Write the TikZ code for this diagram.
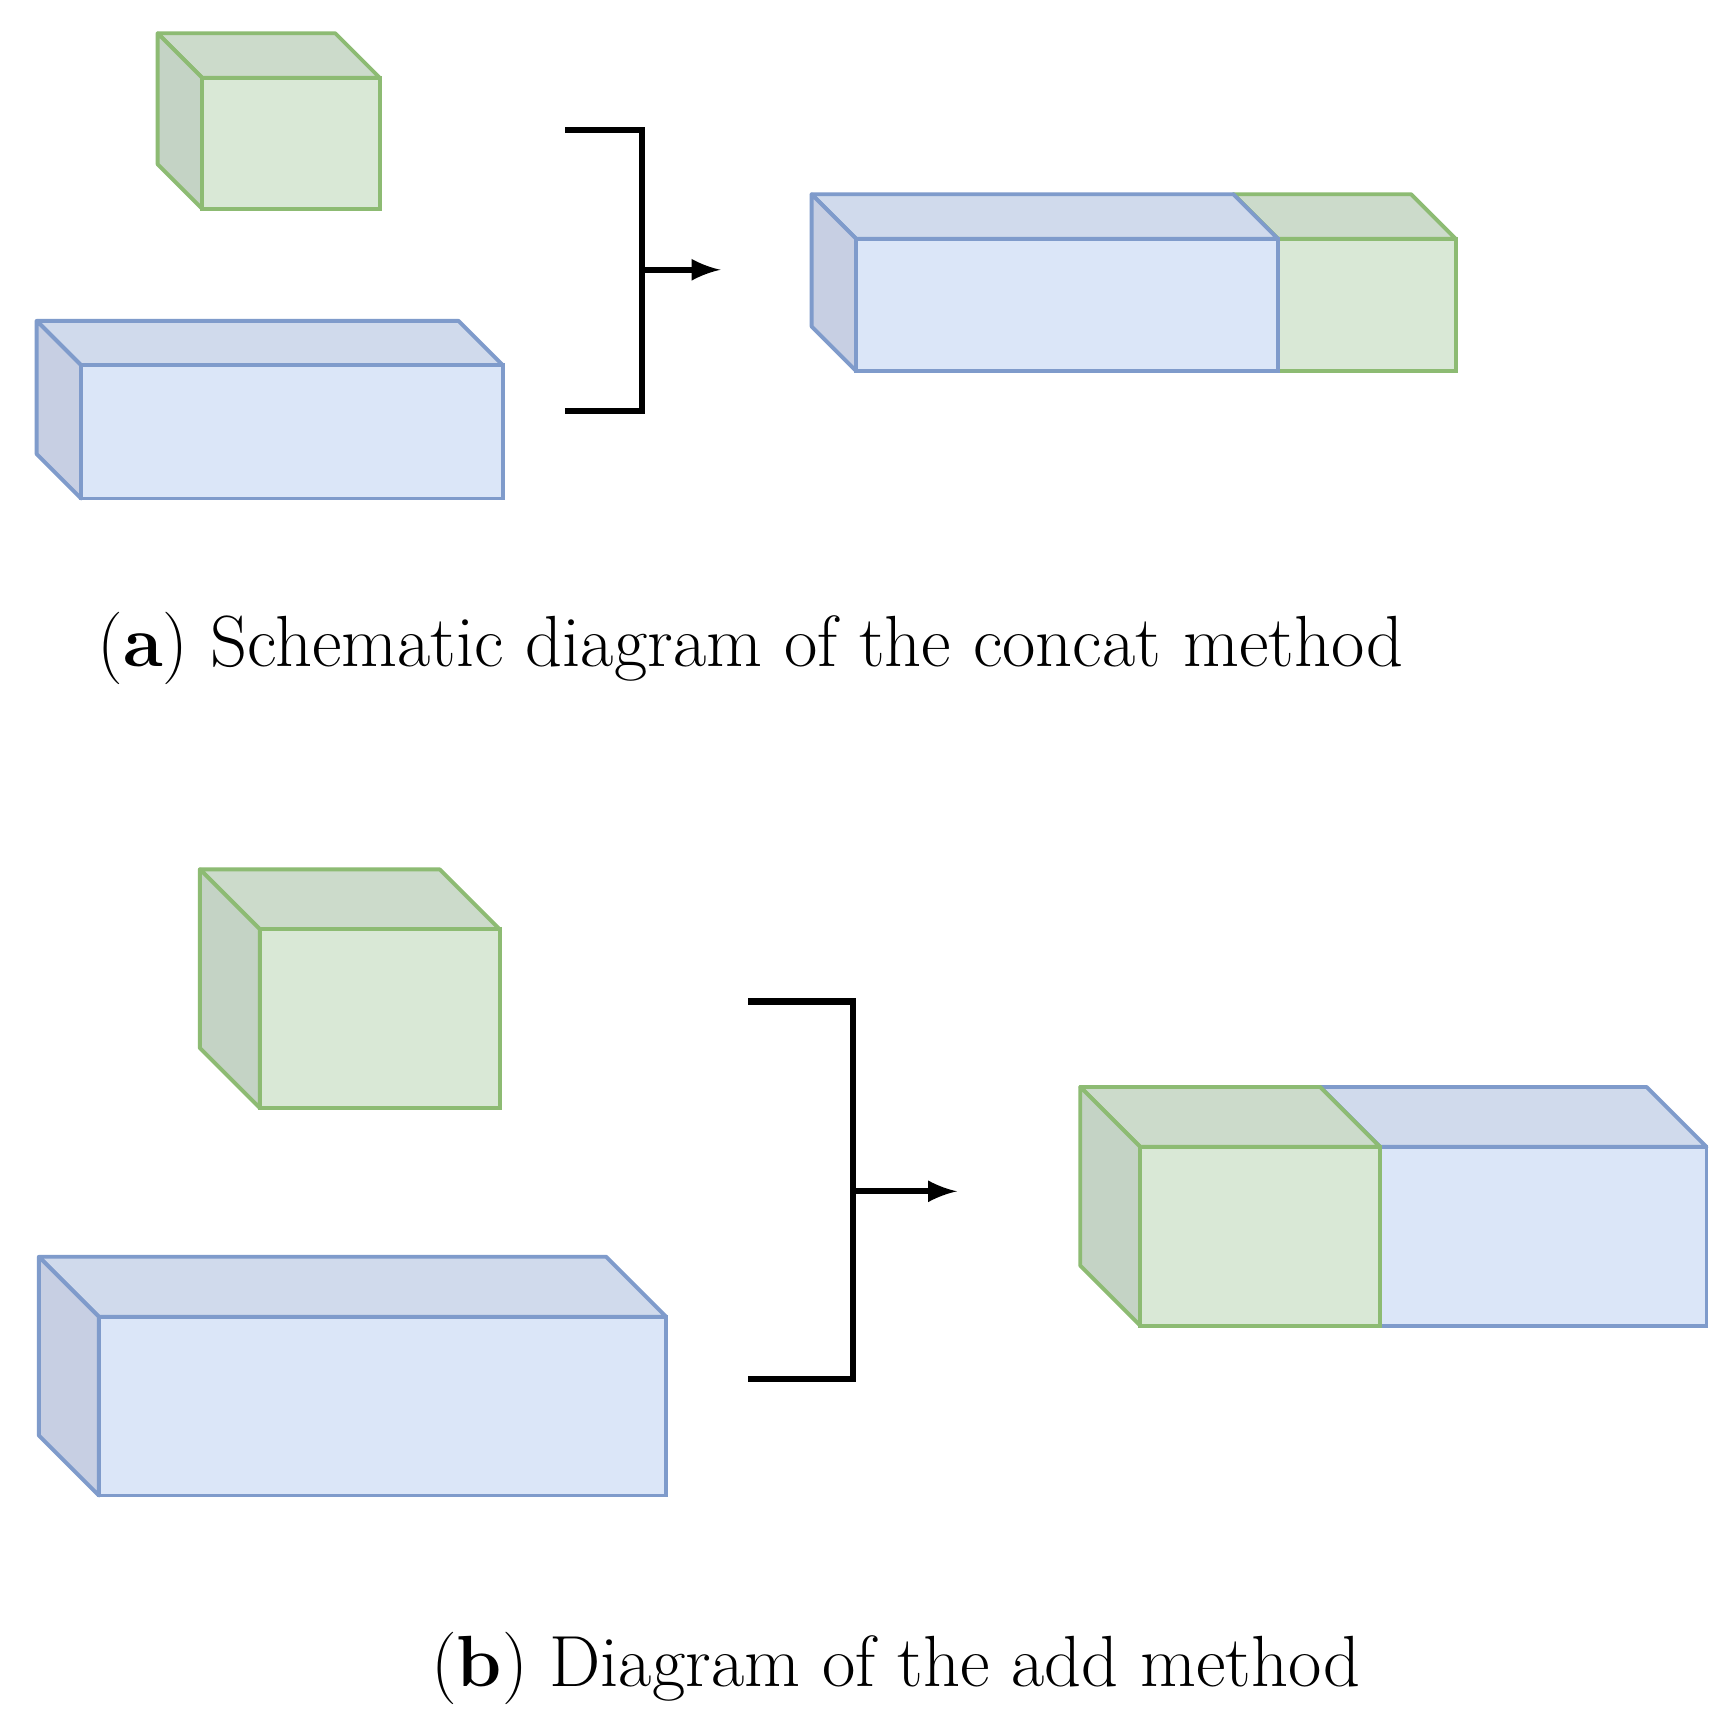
\documentclass[tikz,border=0pt]{standalone}
\definecolor{gF}{HTML}{D9E8D6}\definecolor{gT}{HTML}{CCDBCB}\definecolor{gS}{HTML}{C4D3C5}\definecolor{gD}{HTML}{8DBB73}
\definecolor{bF}{HTML}{DBE6F8}\definecolor{bT}{HTML}{D0DAEC}\definecolor{bS}{HTML}{C7CFE3}\definecolor{bD}{HTML}{7F9BCB}
% \cub{x1}{x2}{ytop}{ybot}{d}{prefix}
\newcommand{\cub}[6]{%
 \draw[#6D,line width=1.1pt,fill=#6T,line join=round] (#1,-#3)--++(-#5,#5)--(#2-#5,-#3+#5)--(#2,-#3)--cycle;
 \draw[#6D,line width=1.1pt,fill=#6S,line join=round] (#1,-#3)--++(-#5,#5)--(#1-#5,-#4+#5)--(#1,-#4)--cycle;
 \draw[#6D,line width=1.1pt,fill=#6F] (#1,-#3) rectangle (#2,-#4);}
\begin{document}
\begin{tikzpicture}[x=0.0111cm,y=0.0111cm,
 br/.style={line width=1.8pt,black},
 captxt/.style={font=\fontsize{20.6}{24}\selectfont,anchor=center}]
\useasboundingbox[fill=white] (0,0) rectangle (1560,-1545);
% (a)
\cub{182}{342}{70}{188}{40}{g}
\cub{73}{453}{329}{449}{40}{b}
\cub{1151}{1311}{215}{334}{40}{g}
\cub{771}{1151}{215}{334}{40}{b}
\coordinate (a1) at (509,-117); \coordinate (a2) at (509,-370);
\coordinate (am) at (578,-243); \coordinate (ae) at (649,-243);
\draw[br] (a1) -| (am) |- (a2);
\draw[br,-latex] (am) -- (ae);
\node[captxt] (ca) at (676,-584) {(\textbf{a}) Schematic diagram of the concat method};
% (b)
\cub{234}{450}{837}{998}{54}{g}
\cub{89}{600}{1186}{1347}{54}{b}
\cub{1243}{1537}{1033}{1194}{54}{b}
\cub{1027}{1243}{1033}{1194}{54}{g}
\coordinate (b1) at (674,-902); \coordinate (b2) at (674,-1242);
\coordinate (bm) at (768,-1073); \coordinate (be) at (862,-1073);
\draw[br] (b1) -| (bm) |- (b2);
\draw[br,-latex] (bm) -- (be);
\node[captxt] (cb) at (807,-1503) {(\textbf{b}) Diagram of the add method};
\end{tikzpicture}
\end{document}
